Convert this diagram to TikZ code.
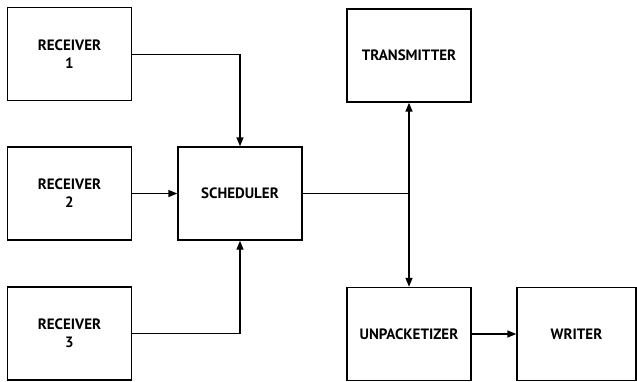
\documentclass[tikz,border=0pt]{standalone}
\usepackage{fontspec}
\setmainfont{PT Sans}
\usetikzlibrary{arrows.meta}
\begin{document}
\begin{tikzpicture}[x=1pt,y=1pt,
  blk/.style={draw, line width=1.4pt, minimum width=124pt, minimum height=93pt,
    inner sep=0pt, align=center, font=\fontsize{15}{18}\selectfont\bfseries},
  conn/.style={line width=1.4pt},
  arr/.style={conn, -{Triangle[length=9pt,width=7pt]}}]
\useasboundingbox (0,0) rectangle (637,-381);
\node[blk] (r1) at (69.5,-54.2) {RECEIVER\\1};
\node[blk] (r2) at (69.5,-193.5) {RECEIVER\\2};
\node[blk] (r3) at (69.5,-333.5) {RECEIVER\\3};
\node[blk] (s) at (240,-193.5) {SCHEDULER};
\node[blk] (t) at (409,-55.5) {TRANSMITTER};
\node[blk] (u) at (409,-334) {UNPACKETIZER};
\node[blk, minimum width=119pt] (w) at (576.5,-334) {WRITER};
\coordinate (j) at (t.south |- s.east);
\draw[arr] (r1.east) -| (s.north);
\draw[arr] (r2.east) -- (s.west);
\draw[arr] (r3.east) -| (s.south);
\draw[conn] (s.east) -- (j);
\draw[arr] (j) -- (t.south);
\draw[arr] (j) -- (u.north);
\draw[arr] (u.east) -- (w.west);
\end{tikzpicture}
\end{document}
